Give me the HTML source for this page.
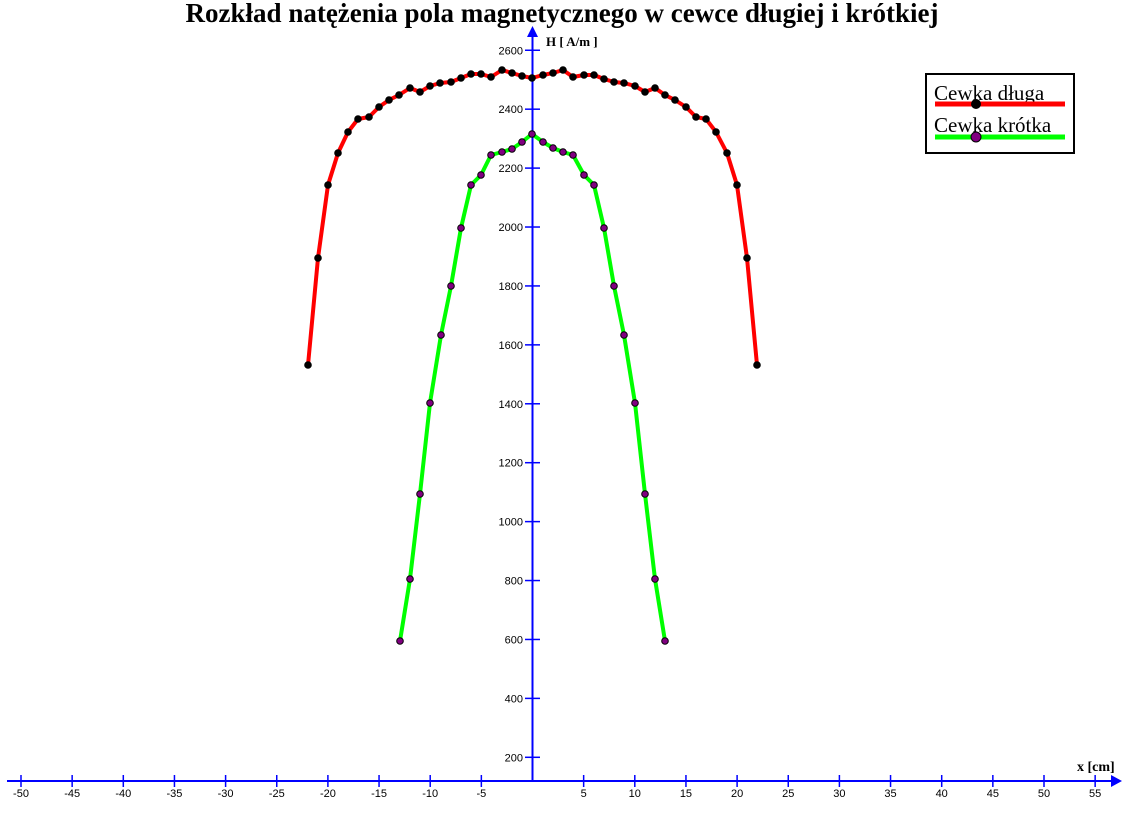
<!DOCTYPE html>
<html><head><meta charset="utf-8"><style>
html,body{margin:0;padding:0;background:#fff;width:1133px;height:819px;overflow:hidden}
svg{display:block}
</style></head><body>
<svg width="1133" height="819" xmlns="http://www.w3.org/2000/svg">
<text x="562" y="22" text-anchor="middle" font-family="Liberation Serif, serif" font-weight="bold" font-size="27">Rozkład natężenia pola magnetycznego w cewce długiej i krótkiej</text>
<g stroke="#0000ff" stroke-width="2">
<line x1="7" y1="781" x2="1115" y2="781"/>
<line x1="532.5" y1="781" x2="532.5" y2="36"/>
</g>
<polygon points="1122,781 1111,775 1111,787" fill="#0000ff"/>
<polygon points="532.5,26 527,37 538,37" fill="#0000ff"/>
<g id="xt" stroke="#0000ff" stroke-width="1.5"></g>
<g id="yt" stroke="#0000ff" stroke-width="1.5"></g>
<g id="lbl" font-family="Liberation Sans, sans-serif" font-size="11" fill="#000"></g>
<text x="1077" y="771" font-family="Liberation Serif, serif" font-weight="bold" font-size="14">x [cm]</text>
<text x="546" y="46" font-family="Liberation Serif, serif" font-weight="bold" font-size="13">H [ A/m ]</text>
<g id="series"></g>
<rect x="926" y="74" width="148" height="79" fill="#fff" stroke="#000" stroke-width="2"/>
<text x="934" y="100" font-family="Liberation Serif, serif" font-size="21">Cewka długa</text>
<line x1="935" y1="104" x2="1065" y2="104" stroke="#ff0000" stroke-width="5"/>
<circle cx="976" cy="104" r="5" fill="#000"/>
<text x="934" y="132" font-family="Liberation Serif, serif" font-size="21">Cewka krótka</text>
<line x1="935" y1="137" x2="1065" y2="137" stroke="#00ff00" stroke-width="5"/>
<circle cx="976" cy="137" r="5" fill="#800080" stroke="#000"/>
</svg>
<script>
var NS="http://www.w3.org/2000/svg";
function el(p,t,a,txt){var e=document.createElementNS(NS,t);for(var k in a)e.setAttribute(k,a[k]);if(txt!==undefined)e.textContent=txt;document.getElementById(p).appendChild(e);}
for(var v=-50;v<=55;v+=5){if(v==0)continue;var x=532.5+v*10.23;
el("xt","line",{x1:x,y1:775,x2:x,y2:787});
el("lbl","text",{x:x,y:797,"text-anchor":"middle"},String(v));}
for(var h=200;h<=2600;h+=200){var y=757.3-(h-200)*0.2946;
el("yt","line",{x1:525,y1:y,x2:540,y2:y});
el("lbl","text",{x:523,y:y+4,"text-anchor":"end"},String(h));}
var L=[[308,365],[318,258],[328,185],[338,153],[348,132],[358,119],[369,117],[379,107],[389,100],[399,95],[410,88],[420,92],[430,86],[440,83],[451,82],[461,78],[471,74],[481,74],[491,77],[502,70],[512,73],[522,76],[532,78],[543,75],[553,73],[563,70],[573,77],[584,75],[594,75],[604,79],[614,82],[624,83],[635,86],[645,92],[655,88],[665,95],[675,100],[686,107],[696,117],[706,119],[716,132],[727,153],[737,185],[747,258],[757,365]];
var S=[[400,641],[410,579],[420,494],[430,403],[441,335],[451,286],[461,228],[471,185],[481,175],[491,155],[502,152],[512,149],[522,142],[532,134],[543,142],[553,148],[563,152],[573,155],[584,175],[594,185],[604,228],[614,286],[624,335],[635,403],[645,494],[655,579],[665,641]];
function draw(P,c,f){el("series","polyline",{points:P.map(function(p){return p.join(",")}).join(" "),fill:"none",stroke:c,"stroke-width":4,"stroke-linejoin":"round"});
P.forEach(function(p){el("series","circle",{cx:p[0],cy:p[1],r:3.3,fill:f,stroke:"#000","stroke-width":1});});}
draw(L,"#ff0000","#000");draw(S,"#00ff00","#800080");
</script>
</body></html>
